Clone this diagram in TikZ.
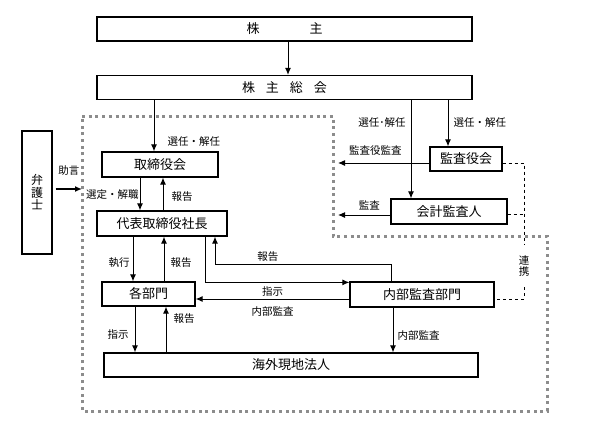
\documentclass[tikz,border=0pt]{standalone}
\usepackage{fontspec}
\setmainfont{Noto Sans CJK JP}
\usetikzlibrary{arrows.meta, positioning}

\begin{document}
\begin{tikzpicture}[x=1pt, y=-1pt,
  box/.style={draw, line width=1.2pt, inner sep=0pt, minimum height=25pt, font=\fontsize{13}{14}\selectfont},
  lab/.style={inner sep=1pt, font=\fontsize{10.5}{11.5}\selectfont},
  arr/.style={-{Latex[length=7pt,width=6pt]}, line width=1pt},
  link/.style={dashed, line width=0.8pt}]
\useasboundingbox (0,0) rectangle (595,426);
% dotted company frame
\draw [black!45, line width=3pt, dash pattern=on 3pt off 3.7pt] (82,116) -- (333,116) -- (333,236) -- (547,236) -- (547,411) -- (82,411) -- cycle;
\coordinate (edge) at (82,116);
\coordinate (inner) at (338,116);

\node [box, minimum width=375pt, minimum height=24pt] (holders) at (284.5,29) {株\hspace{50pt}主};
\node [box, minimum width=375pt, minimum height=24pt] (meeting) at (284.5,87.5) {株\hspace{11pt}主\hspace{11pt}総\hspace{11pt}会};
\node [box, minimum width=30pt, minimum height=123pt, align=center, font=\fontsize{12}{12.5}\selectfont] (lawyer) at (37,192.5) {弁\\護\\士};
\node [box, minimum width=116pt] (board) at (160,164.5) {取締役会};
\node [box, minimum width=130pt] (president) at (162,223.5) {代表取締役社長};
\node [box, minimum width=93pt, minimum height=24pt] (depts) at (148.5,294) {各部門};
\node [box, minimum width=374pt, minimum height=24pt] (overseas) at (291,365) {海外現地法人};
\node [box, minimum width=144pt] (audit) at (422,294.5) {内部監査部門};
\node [box, minimum width=72pt, minimum height=24pt] (kansa) at (466,159) {監査役会};
\node [box, minimum width=116pt] (acct) at (449,211.5) {会計監査人};
\node [lab, minimum height=42pt, align=center, font=\fontsize{10.5}{11}\selectfont] (coop) at (524,266) {連\\携};

% shareholders side
\draw [arr] ([xshift=3.5pt]holders.south) -- ([xshift=3.5pt]meeting.north);
\draw [arr] ([xshift=-6pt]board.north |- meeting.south) -- node [lab, pos=0.8, right=12pt] {選任・解任} ([xshift=-6pt]board.north);
\draw [arr] ([xshift=-18pt]kansa.north |- meeting.south) -- node [lab, pos=0.49, right=4pt] {選任・解任} ([xshift=-18pt]kansa.north);
\draw [arr] ([xshift=-38pt]acct.north |- meeting.south) -- node [lab, pos=0.23, left=4pt] {選任･解任} ([xshift=-38pt]acct.north);

% lawyer
\draw [arr, line width=2pt] ([xshift=3pt, yshift=3.5pt]lawyer.east) -- node [lab, above=12pt] {助言} ([yshift=3.5pt]lawyer.east -| edge);

% board and president
\draw [arr] ([xshift=-20pt]board.south) -- node [lab, pos=0.53, left=0pt] {選定・解職} ([xshift=-20pt]board.south |- president.north);
\draw [arr] ([xshift=3pt]board.south |- president.north) -- node [lab, pos=0.41, right=7pt] {報告} ([xshift=3pt]board.south);
\draw [arr] ([xshift=-29pt]president.south) -- node [lab, pos=0.57, left=2pt] {執行} ([xshift=-29pt]president.south |- depts.north);
\draw [arr] ([xshift=2pt]president.south |- depts.north) -- node [lab, pos=0.41, right=5pt] {報告} ([xshift=2pt]president.south);
\draw [arr] ([xshift=-13.5pt]depts.south) -- node [lab, pos=0.62, left=5pt] {指示} ([xshift=-13.5pt]depts.south |- overseas.north);
\draw [arr] ([xshift=17.5pt]depts.south |- overseas.north) -- node [lab, pos=0.74, right=6pt] {報告} ([xshift=17.5pt]depts.south);

% internal audit
\draw [arr] ([xshift=-31pt]audit.north) -- ++(0,-17) -| node [lab, pos=0.35, above=1pt] {報告} ([xshift=53pt]president.south);
\draw [arr] ([xshift=43pt]president.south) |- ([yshift=-1pt]audit.north west);
\draw [arr] ([yshift=-4.5pt]audit.west) -- node [lab, above=1pt] {指示} node [lab, below=6pt] {内部監査} ([yshift=-4.5pt]audit.west -| depts.east);
\draw [arr] ([xshift=-29pt]audit.south) -- node [lab, pos=0.63, right=3pt] {内部監査} ([xshift=-29pt]audit.south |- overseas.north);

% auditors
\draw [arr] ([yshift=-4pt]kansa.west) -- node [lab, pos=0.59, above=6pt] {監査役監査} ([yshift=-4pt]kansa.west -| inner);
\draw [arr] ([yshift=-3.5pt]acct.west) -- node [lab, pos=0.4, above=3pt] {監査} ([yshift=-3.5pt]acct.west -| inner);
\draw [link] ([yshift=-4pt]kansa.east) -| (coop.north);
\draw [link] ([yshift=-2.5pt]acct.east) -- ([yshift=-2.5pt]acct.east -| coop);
\draw [link] (coop.south) |- ([yshift=-4.5pt]audit.east);
\end{tikzpicture}
\end{document}
